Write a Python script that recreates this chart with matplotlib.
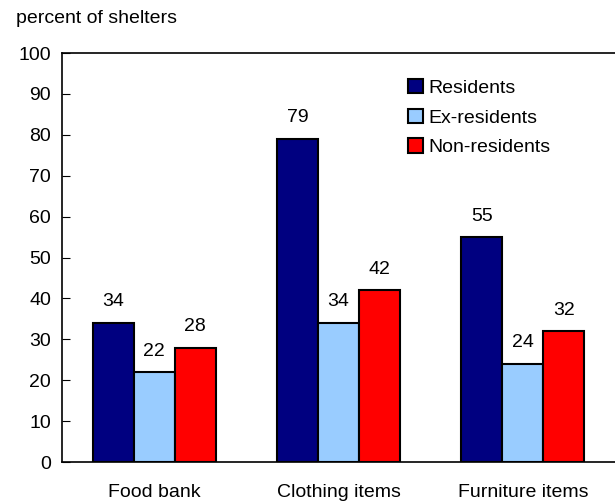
import numpy as np
import matplotlib.pyplot as plt

plt.rcParams['font.family'] = ['Liberation Sans', 'DejaVu Sans']

categories = ['Food bank', 'Clothing items', 'Furniture items']
residents = [34, 79, 55]
ex_residents = [22, 34, 24]
non_residents = [28, 42, 32]
yticks = list(range(0, 101, 10))

series = [('Residents', residents, '#000080'),
          ('Ex-residents', ex_residents, '#99ccff'),
          ('Non-residents', non_residents, '#ff0000')]

fig = plt.figure(figsize=(6.15, 5.03), dpi=100)
ax = fig.add_axes([0.1008, 0.0815, 0.8992, 0.813])

x = np.arange(len(categories))
w = 0.222
for i, (name, vals, col) in enumerate(series):
    bars = ax.bar(x + (i - 1) * w, vals, w, color=col, edgecolor='black',
                  linewidth=1.5, label=name)
    for b, v in zip(bars, vals):
        ax.annotate(str(v), (b.get_x() + b.get_width() / 2, v),
                    xytext=(0, 9), textcoords='offset points',
                    ha='center', va='bottom', fontsize=14)

ax.set_xlim(-0.5, 2.5)
ax.set_ylim(0, 100)
ax.set_yticks(yticks)
ax.set_xticks(x)
ax.set_xticklabels(categories)
ax.tick_params(axis='y', direction='in', length=6, labelsize=14, pad=8)
ax.tick_params(axis='x', length=0, labelsize=14, pad=16)
ax.spines['right'].set_visible(False)
for s in ['left', 'top', 'bottom']:
    ax.spines[s].set_linewidth(1.2)

ax.legend(loc='upper left', bbox_to_anchor=(0.612, 0.955), frameon=False,
          fontsize=14, handlelength=0.75, handleheight=0.75, handletextpad=0.3,
          labelspacing=0.6, borderaxespad=0)

fig.text(0.026, 0.963, 'percent of shelters', fontsize=14, va='center')

fig.savefig('out.png', dpi=100)
